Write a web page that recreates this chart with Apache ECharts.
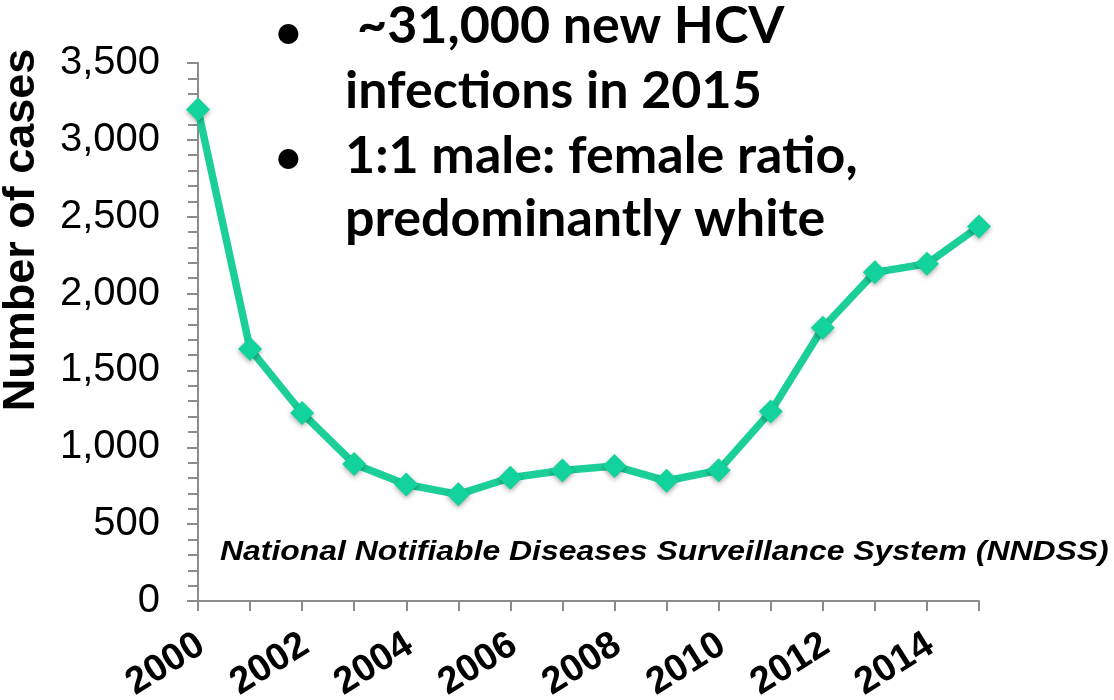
<!DOCTYPE html>
<html>
<head>
<meta charset="utf-8">
<script src="https://cdn.jsdelivr.net/npm/echarts@6/dist/echarts.min.js"></script>
<style>
  html, body { margin: 0; padding: 0; background: #fff; }
  #chart { width: 1114px; height: 700px; }
</style>
</head>
<body>
<div id="chart"></div>
<script>
const years = ['2000', '2001', '2002', '2003', '2004', '2005', '2006', '2007',
  '2008', '2009', '2010', '2011', '2012', '2013', '2014', '2015'];
const cases = [3197, 1640, 1223, 891, 758, 694, 802, 849, 878, 782, 850, 1232, 1778, 2138, 2194, 2436];
const bullets = ['~31,000 new HCV', 'infections in 2015', '1:1 male: female ratio,', 'predominantly white'];
const yTitle = 'Number of cases';
const sourceNote = 'National Notifiable Diseases Surveillance System (NNDSS)';

const chart = echarts.init(document.getElementById('chart'));
const arial = '"Liberation Sans", Arial, sans-serif';
const bulletFont = 'Lato, "Open Sans", sans-serif';
const grey = '#8c8c8c';

const bulletText = (text, left, top) => ({
  type: 'text', left, top,
  style: { text, fontSize: 52, fontWeight: 'bold', fontFamily: bulletFont, fill: '#000' }
});

const option = {
  animation: false,
  grid: { left: 198, right: 135, top: 63, bottom: 99, containLabel: false, outerBoundsMode: 'none' },
  xAxis: {
    type: 'category',
    data: years,
    boundaryGap: false,
    axisLine: { show: true, lineStyle: { color: grey, width: 2 } },
    axisTick: { show: true, interval: 0, length: 10, lineStyle: { color: grey, width: 2 } },
    axisLabel: {
      interval: 1,
      rotate: 32,
      margin: 43,
      padding: [0, -4, 0, 0],
      color: '#000',
      fontSize: 38,
      fontWeight: 'bold',
      fontFamily: arial
    }
  },
  yAxis: {
    type: 'value',
    min: 0,
    max: 3500,
    interval: 500,
    axisLine: { show: true, lineStyle: { color: grey, width: 2 } },
    axisTick: { show: true, length: 11, lineStyle: { color: grey, width: 2 } },
    minorTick: { show: true, splitNumber: 5, length: 10, lineStyle: { color: grey, width: 2 } },
    splitLine: { show: false },
    axisLabel: {
      margin: 38,
      color: '#000',
      fontSize: 40,
      fontFamily: arial,
      formatter: v => v.toLocaleString('en-US')
    }
  },
  series: [{
    type: 'line',
    data: cases,
    symbol: 'diamond',
    symbolSize: 24,
    lineStyle: { color: '#1ccf98', width: 7.5 },
    itemStyle: {
      color: '#12d39b',
      shadowBlur: 5,
      shadowColor: 'rgba(0,0,0,0.35)',
      shadowOffsetY: 2
    },
    z: 3
  }],
  graphic: [
    { type: 'text', left: 275, top: 10, style: { text: '•', fontSize: 46, fontWeight: 'bold', fontFamily: bulletFont, fill: '#000' } },
    { type: 'text', left: 275, top: 135, style: { text: '•', fontSize: 46, fontWeight: 'bold', fontFamily: bulletFont, fill: '#000' } },
    bulletText(bullets[0], 357, 0),
    bulletText(bullets[1], 345, 65),
    bulletText(bullets[2], 345, 130),
    bulletText(bullets[3], 345, 193),
    {
      type: 'text', x: 44, y: 230, rotation: Math.PI / 2,
      style: {
        text: yTitle, fontSize: 45, fontWeight: 'bold', fontFamily: arial, fill: '#000',
        align: 'center', verticalAlign: 'bottom'
      }
    },
    {
      type: 'text', x: 220, y: 538, scaleX: 1.14,
      style: { text: sourceNote, fontSize: 28, fontWeight: 'bold', fontStyle: 'italic', fontFamily: arial, fill: '#000' }
    }
  ]
};

chart.setOption(option);
window.addEventListener('resize', () => chart.resize());
</script>
</body>
</html>
